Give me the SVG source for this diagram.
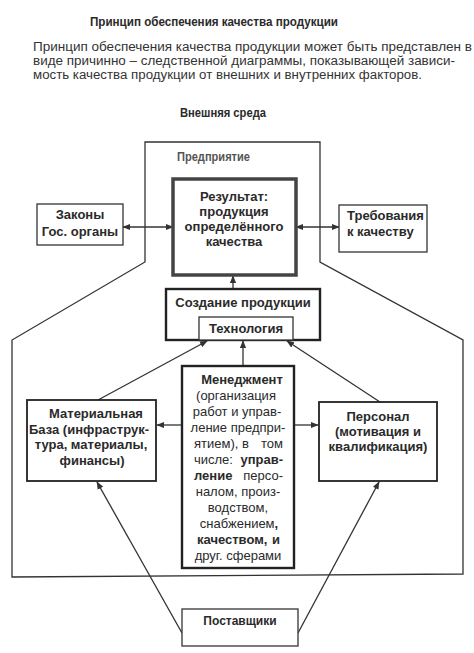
<svg xmlns="http://www.w3.org/2000/svg" width="474" height="653" viewBox="0 0 474 653">
<style>
text{font-family:"Liberation Sans",Arial,sans-serif;fill:#2a2a2a}
.t{font-size:12px;font-weight:bold}
.b{font-size:13px;font-weight:bold}
.p{font-size:12.5px;fill:#333}
.m{font-size:13px}
.bold{font-weight:bold}
.box{fill:#fff;stroke:#333;stroke-width:1.3}
.thick{fill:#fff;stroke:#222;stroke-width:2.4}
.ln{fill:none;stroke:#333;stroke-width:1.3}
</style>
<defs>
<marker id="ah" viewBox="0 0 10 10" refX="9" refY="5" markerWidth="6" markerHeight="6" orient="auto-start-reverse"><path d="M0,1 L10,5 L0,9 z" fill="#333"/></marker>
</defs>
<rect width="474" height="653" fill="#fff"/>
<text class="t" x="90" y="26" textLength="248" lengthAdjust="spacingAndGlyphs">Принцип  обеспечения качества продукции</text>
<text class="p" x="33" y="50.5" textLength="439" lengthAdjust="spacingAndGlyphs">Принцип обеспечения качества продукции может быть представлен  в</text>
<text class="p" x="33" y="64.5" textLength="422" lengthAdjust="spacingAndGlyphs">виде причинно – следственной диаграммы, показывающей зависи-</text>
<text class="p" x="33" y="78.5" textLength="389" lengthAdjust="spacingAndGlyphs">мость качества продукции от внешних и внутренних факторов.</text>
<text class="t" x="180" y="117" textLength="86" lengthAdjust="spacingAndGlyphs">Внешняя среда</text>
<g id="enterprise">
<path class="ln" d="M145,262 L145,142 L320,142 L320,262 L463,340 L463,574 L12,577 L12,340 Z"/>
<text class="t" x="177" y="161" textLength="73" lengthAdjust="spacingAndGlyphs" style="fill:#555">Предприятие</text>
</g>
<g id="connectors">
<line class="ln" x1="123" y1="227" x2="173" y2="227" marker-start="url(#ah)" marker-end="url(#ah)"/>
<line class="ln" x1="296" y1="227" x2="339" y2="227" marker-start="url(#ah)" marker-end="url(#ah)"/>
<line class="ln" x1="233" y1="289" x2="233" y2="276" marker-end="url(#ah)"/>
<line class="ln" x1="243" y1="366" x2="243" y2="341" marker-end="url(#ah)"/>
<line class="ln" x1="98" y1="400" x2="207" y2="341" marker-end="url(#ah)"/>
<line class="ln" x1="380" y1="402" x2="287" y2="341" marker-end="url(#ah)"/>
<line class="ln" x1="182" y1="425" x2="157" y2="425" marker-end="url(#ah)"/>
<line class="ln" x1="294" y1="425" x2="318" y2="425" marker-end="url(#ah)"/>
<line class="ln" x1="182" y1="633" x2="97" y2="482" marker-end="url(#ah)"/>
<line class="ln" x1="298" y1="633" x2="379" y2="482" marker-end="url(#ah)"/>
</g>
<g id="result">
<rect x="173" y="179" width="123" height="96" fill="#fff" stroke="#444" stroke-width="3.5"/>
<rect x="176" y="182" width="117" height="90" fill="none" stroke="#fff" stroke-width="1"/>
<text class="b" text-anchor="middle"><tspan x="234" y="201">Результат:</tspan><tspan x="234" y="216">продукция</tspan><tspan x="234" y="231">определённого</tspan><tspan x="234" y="246">качества</tspan></text>
</g>
<g id="laws">
<rect class="box" x="37" y="204" width="86" height="41"/>
<text class="b" text-anchor="middle"><tspan x="80" y="219">Законы</tspan><tspan x="80" y="236">Гос. органы</tspan></text>
</g>
<g id="requirements">
<rect class="box" x="339" y="205" width="88" height="47"/>
<text class="b"><tspan x="347" y="220">Требования</tspan><tspan x="347" y="236">к качеству</tspan></text>
</g>
<g id="creation">
<rect class="thick" x="166" y="289" width="154" height="51"/>
<text class="b" text-anchor="middle" x="243" y="307">Создание продукции</text>
</g>
<g id="technology">
<rect class="box" x="199" y="317" width="94" height="23"/>
<text class="b" text-anchor="middle" x="246" y="333">Технология</text>
</g>
<g id="management">
<rect class="thick" x="182" y="366" width="112" height="202"/>
<text class="m bold" text-anchor="middle" x="242" y="383.5">Менеджмент</text>
<text class="m" text-anchor="middle" x="236" y="399.5">(организация</text>
<text class="m" text-anchor="middle" x="237" y="415.5">работ и управ-</text>
<text class="m" text-anchor="middle" x="238" y="431.5">ление предпри-</text>
<text class="m" x="194" y="447.5">ятием), в</text>
<text class="m" text-anchor="end" x="283" y="447.5">том</text>
<text class="m" x="194" y="463.5">числе:</text>
<text class="m bold" text-anchor="end" x="283" y="463.5">управ-</text>
<text class="m bold" x="194" y="479.5">ление</text>
<text class="m" text-anchor="end" x="283" y="479.5">персо-</text>
<text class="m" text-anchor="middle" x="238" y="495.5">налом, произ-</text>
<text class="m" text-anchor="middle" x="238" y="511.5">водством,</text>
<text class="m" text-anchor="middle" x="239" y="527.5">снабжением<tspan class="bold">,</tspan></text>
<text class="m bold" x="197" y="543.5">качеством,</text>
<text class="m bold" text-anchor="end" x="280" y="543.5">и</text>
<text class="m" text-anchor="middle" x="238" y="559.5">друг. сферами</text>
</g>
<g id="material">
<rect class="thick" x="27" y="400" width="129" height="81" style="stroke-width:1.8"/>
<text class="b" text-anchor="middle"><tspan x="96" y="417.5">Материальная</tspan><tspan x="89" y="433.5">База (инфраструк-</tspan><tspan x="91" y="448.5">тура, материалы,</tspan><tspan x="92" y="464.5">финансы)</tspan></text>
</g>
<g id="personnel">
<rect class="thick" x="319" y="402" width="118" height="79" style="stroke-width:1.8"/>
<text class="b" text-anchor="middle"><tspan x="378" y="420.5">Персонал</tspan><tspan x="378" y="435.5">(мотивация и</tspan><tspan x="378" y="450.5">квалификация)</tspan></text>
</g>
<g id="suppliers">
<rect class="box" x="182" y="609" width="116" height="37"/>
<text class="b" text-anchor="middle" x="240" y="625" style="font-size:12px">Поставщики</text>
</g>
</svg>
